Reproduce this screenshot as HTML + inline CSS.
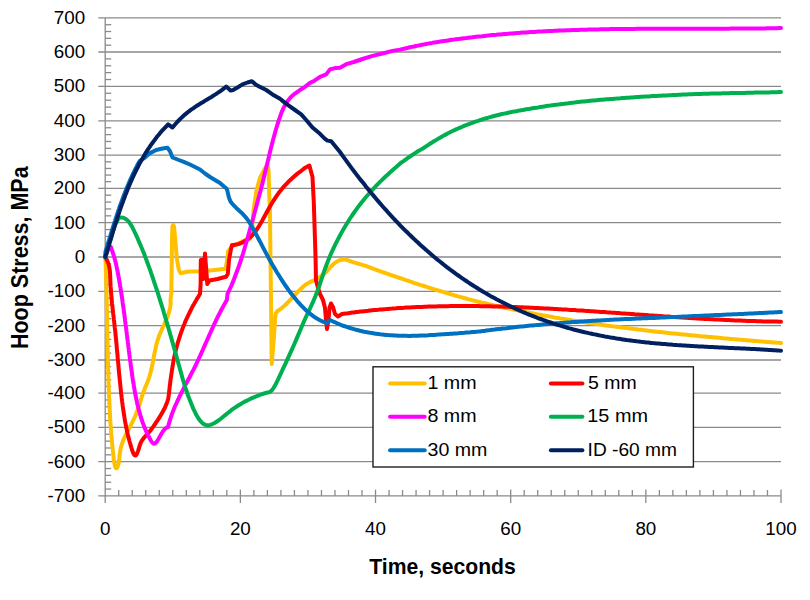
<!DOCTYPE html>
<html><head><meta charset="utf-8"><style>
html,body{margin:0;padding:0;background:#fff;}
body{width:810px;height:600px;overflow:hidden;}
svg{display:block;}
text{font-family:"Liberation Sans",sans-serif;fill:#000;}
</style></head><body>
<svg width="810" height="600" viewBox="0 0 810 600">
<rect width="810" height="600" fill="#fff"/>
<g stroke="#8a8a8a" stroke-width="1.3" fill="none">
<line x1="98.3" y1="17.90" x2="781.00" y2="17.90"/>
<line x1="98.3" y1="52.00" x2="781.00" y2="52.00"/>
<line x1="98.3" y1="86.40" x2="781.00" y2="86.40"/>
<line x1="98.3" y1="120.90" x2="781.00" y2="120.90"/>
<line x1="98.3" y1="155.20" x2="781.00" y2="155.20"/>
<line x1="98.3" y1="188.30" x2="781.00" y2="188.30"/>
<line x1="98.3" y1="222.70" x2="781.00" y2="222.70"/>
<line x1="98.3" y1="257.00" x2="781.00" y2="257.00"/>
<line x1="98.3" y1="291.30" x2="781.00" y2="291.30"/>
<line x1="98.3" y1="325.60" x2="781.00" y2="325.60"/>
<line x1="98.3" y1="360.00" x2="781.00" y2="360.00"/>
<line x1="98.3" y1="393.10" x2="781.00" y2="393.10"/>
<line x1="98.3" y1="427.40" x2="781.00" y2="427.40"/>
<line x1="98.3" y1="461.70" x2="781.00" y2="461.70"/>
<line x1="98.3" y1="495.90" x2="781.00" y2="495.90"/>
<line x1="105.2" y1="17.90" x2="105.2" y2="503"/>
<line x1="105.2" y1="489.06" x2="111.2" y2="489.06"/>
<line x1="105.2" y1="482.22" x2="111.2" y2="482.22"/>
<line x1="105.2" y1="475.38" x2="111.2" y2="475.38"/>
<line x1="105.2" y1="468.54" x2="111.2" y2="468.54"/>
<line x1="105.2" y1="454.84" x2="111.2" y2="454.84"/>
<line x1="105.2" y1="447.98" x2="111.2" y2="447.98"/>
<line x1="105.2" y1="441.12" x2="111.2" y2="441.12"/>
<line x1="105.2" y1="434.26" x2="111.2" y2="434.26"/>
<line x1="105.2" y1="420.54" x2="111.2" y2="420.54"/>
<line x1="105.2" y1="413.68" x2="111.2" y2="413.68"/>
<line x1="105.2" y1="406.82" x2="111.2" y2="406.82"/>
<line x1="105.2" y1="399.96" x2="111.2" y2="399.96"/>
<line x1="105.2" y1="386.48" x2="111.2" y2="386.48"/>
<line x1="105.2" y1="379.86" x2="111.2" y2="379.86"/>
<line x1="105.2" y1="373.24" x2="111.2" y2="373.24"/>
<line x1="105.2" y1="366.62" x2="111.2" y2="366.62"/>
<line x1="105.2" y1="353.12" x2="111.2" y2="353.12"/>
<line x1="105.2" y1="346.24" x2="111.2" y2="346.24"/>
<line x1="105.2" y1="339.36" x2="111.2" y2="339.36"/>
<line x1="105.2" y1="332.48" x2="111.2" y2="332.48"/>
<line x1="105.2" y1="318.74" x2="111.2" y2="318.74"/>
<line x1="105.2" y1="311.88" x2="111.2" y2="311.88"/>
<line x1="105.2" y1="305.02" x2="111.2" y2="305.02"/>
<line x1="105.2" y1="298.16" x2="111.2" y2="298.16"/>
<line x1="105.2" y1="284.44" x2="111.2" y2="284.44"/>
<line x1="105.2" y1="277.58" x2="111.2" y2="277.58"/>
<line x1="105.2" y1="270.72" x2="111.2" y2="270.72"/>
<line x1="105.2" y1="263.86" x2="111.2" y2="263.86"/>
<line x1="105.2" y1="250.14" x2="111.2" y2="250.14"/>
<line x1="105.2" y1="243.28" x2="111.2" y2="243.28"/>
<line x1="105.2" y1="236.42" x2="111.2" y2="236.42"/>
<line x1="105.2" y1="229.56" x2="111.2" y2="229.56"/>
<line x1="105.2" y1="215.82" x2="111.2" y2="215.82"/>
<line x1="105.2" y1="208.94" x2="111.2" y2="208.94"/>
<line x1="105.2" y1="202.06" x2="111.2" y2="202.06"/>
<line x1="105.2" y1="195.18" x2="111.2" y2="195.18"/>
<line x1="105.2" y1="181.68" x2="111.2" y2="181.68"/>
<line x1="105.2" y1="175.06" x2="111.2" y2="175.06"/>
<line x1="105.2" y1="168.44" x2="111.2" y2="168.44"/>
<line x1="105.2" y1="161.82" x2="111.2" y2="161.82"/>
<line x1="105.2" y1="148.34" x2="111.2" y2="148.34"/>
<line x1="105.2" y1="141.48" x2="111.2" y2="141.48"/>
<line x1="105.2" y1="134.62" x2="111.2" y2="134.62"/>
<line x1="105.2" y1="127.76" x2="111.2" y2="127.76"/>
<line x1="105.2" y1="114.00" x2="111.2" y2="114.00"/>
<line x1="105.2" y1="107.10" x2="111.2" y2="107.10"/>
<line x1="105.2" y1="100.20" x2="111.2" y2="100.20"/>
<line x1="105.2" y1="93.30" x2="111.2" y2="93.30"/>
<line x1="105.2" y1="79.52" x2="111.2" y2="79.52"/>
<line x1="105.2" y1="72.64" x2="111.2" y2="72.64"/>
<line x1="105.2" y1="65.76" x2="111.2" y2="65.76"/>
<line x1="105.2" y1="58.88" x2="111.2" y2="58.88"/>
<line x1="105.2" y1="45.18" x2="111.2" y2="45.18"/>
<line x1="105.2" y1="38.36" x2="111.2" y2="38.36"/>
<line x1="105.2" y1="31.54" x2="111.2" y2="31.54"/>
<line x1="105.2" y1="24.72" x2="111.2" y2="24.72"/>
<line x1="118.72" y1="490" x2="118.72" y2="495.90"/>
<line x1="132.23" y1="490" x2="132.23" y2="495.90"/>
<line x1="145.75" y1="490" x2="145.75" y2="495.90"/>
<line x1="159.26" y1="490" x2="159.26" y2="495.90"/>
<line x1="172.78" y1="490" x2="172.78" y2="495.90"/>
<line x1="186.30" y1="490" x2="186.30" y2="495.90"/>
<line x1="199.81" y1="490" x2="199.81" y2="495.90"/>
<line x1="213.33" y1="490" x2="213.33" y2="495.90"/>
<line x1="226.84" y1="490" x2="226.84" y2="495.90"/>
<line x1="240.36" y1="489.6" x2="240.36" y2="503"/>
<line x1="253.88" y1="490" x2="253.88" y2="495.90"/>
<line x1="267.39" y1="490" x2="267.39" y2="495.90"/>
<line x1="280.91" y1="490" x2="280.91" y2="495.90"/>
<line x1="294.42" y1="490" x2="294.42" y2="495.90"/>
<line x1="307.94" y1="490" x2="307.94" y2="495.90"/>
<line x1="321.46" y1="490" x2="321.46" y2="495.90"/>
<line x1="334.97" y1="490" x2="334.97" y2="495.90"/>
<line x1="348.49" y1="490" x2="348.49" y2="495.90"/>
<line x1="362.00" y1="490" x2="362.00" y2="495.90"/>
<line x1="375.52" y1="489.6" x2="375.52" y2="503"/>
<line x1="389.04" y1="490" x2="389.04" y2="495.90"/>
<line x1="402.55" y1="490" x2="402.55" y2="495.90"/>
<line x1="416.07" y1="490" x2="416.07" y2="495.90"/>
<line x1="429.58" y1="490" x2="429.58" y2="495.90"/>
<line x1="443.10" y1="490" x2="443.10" y2="495.90"/>
<line x1="456.62" y1="490" x2="456.62" y2="495.90"/>
<line x1="470.13" y1="490" x2="470.13" y2="495.90"/>
<line x1="483.65" y1="490" x2="483.65" y2="495.90"/>
<line x1="497.16" y1="490" x2="497.16" y2="495.90"/>
<line x1="510.68" y1="489.6" x2="510.68" y2="503"/>
<line x1="524.20" y1="490" x2="524.20" y2="495.90"/>
<line x1="537.71" y1="490" x2="537.71" y2="495.90"/>
<line x1="551.23" y1="490" x2="551.23" y2="495.90"/>
<line x1="564.74" y1="490" x2="564.74" y2="495.90"/>
<line x1="578.26" y1="490" x2="578.26" y2="495.90"/>
<line x1="591.78" y1="490" x2="591.78" y2="495.90"/>
<line x1="605.29" y1="490" x2="605.29" y2="495.90"/>
<line x1="618.81" y1="490" x2="618.81" y2="495.90"/>
<line x1="632.32" y1="490" x2="632.32" y2="495.90"/>
<line x1="645.84" y1="489.6" x2="645.84" y2="503"/>
<line x1="659.36" y1="490" x2="659.36" y2="495.90"/>
<line x1="672.87" y1="490" x2="672.87" y2="495.90"/>
<line x1="686.39" y1="490" x2="686.39" y2="495.90"/>
<line x1="699.90" y1="490" x2="699.90" y2="495.90"/>
<line x1="713.42" y1="490" x2="713.42" y2="495.90"/>
<line x1="726.94" y1="490" x2="726.94" y2="495.90"/>
<line x1="740.45" y1="490" x2="740.45" y2="495.90"/>
<line x1="753.97" y1="490" x2="753.97" y2="495.90"/>
<line x1="767.48" y1="490" x2="767.48" y2="495.90"/>
<line x1="781.00" y1="489.6" x2="781.00" y2="503"/>
</g>
<g fill="none" stroke-width="4" stroke-linejoin="round" stroke-linecap="round">
<polyline points="105.3,256.9 105.6,262.5 105.7,264.5 105.7,266.6 105.8,268.6 105.9,270.6 106.0,272.7 106.0,274.7 106.1,276.7 106.1,278.7 106.2,280.7 106.3,282.8 106.3,284.8 106.4,286.8 106.4,288.8 106.5,290.8 106.5,292.8 106.6,294.8 106.6,296.8 106.7,298.8 106.7,300.8 106.7,302.8 106.8,304.8 106.8,306.8 106.9,308.8 106.9,310.8 106.9,312.7 107.0,314.7 107.0,316.7 107.1,318.7 107.1,320.7 107.1,322.7 107.2,324.7 107.2,326.7 107.2,328.7 107.3,330.7 107.3,332.7 107.4,334.7 107.4,336.6 107.4,338.6 107.5,340.6 107.5,342.6 107.6,344.6 107.6,346.7 107.6,348.7 107.7,350.7 107.7,352.7 107.8,354.7 107.8,356.7 107.9,358.7 107.9,360.7 108.0,362.8 108.0,364.8 108.1,366.8 108.1,368.8 108.2,370.9 108.2,372.9 108.3,375.0 108.4,377.0 108.4,379.0 108.5,381.1 108.5,383.1 108.6,385.2 108.7,387.3 108.8,389.3 108.8,391.4 108.9,393.4 109.0,395.4 109.1,397.5 109.2,399.5 109.3,401.5 109.4,403.6 109.5,405.6 109.6,407.6 109.7,409.6 109.8,411.6 109.9,413.6 110.0,415.5 110.1,417.5 110.2,419.4 110.3,421.4 110.5,423.3 110.6,425.2 110.7,427.1 110.9,428.9 111.0,430.8 111.2,432.6 111.3,434.4 111.5,436.3 111.6,438.1 111.8,440.0 112.0,442.0 112.2,444.1 112.4,446.3 112.7,448.6 112.9,451.0 113.2,453.6 113.5,456.4 113.8,459.2 114.2,461.9 114.6,464.3 115.1,466.2 115.5,467.6 116.1,468.3 116.7,468.2 117.3,467.3 117.9,466.0 118.4,464.3 118.7,462.5 119.0,460.4 119.3,458.2 119.5,456.0 119.8,453.7 120.1,451.5 120.5,449.4 120.9,447.4 121.5,445.5 122.1,443.6 122.7,441.8 123.4,440.1 124.2,438.3 125.0,436.5 125.9,434.7 126.8,432.9 127.7,431.1 128.7,429.3 129.6,427.5 130.6,425.7 131.5,423.9 132.4,422.0 133.3,420.2 134.2,418.4 135.0,416.5 135.8,414.7 136.5,412.8 137.2,411.0 137.9,409.1 138.5,407.2 139.1,405.4 139.7,403.5 140.3,401.6 140.9,399.7 141.5,397.8 142.1,395.9 142.8,394.0 143.4,392.1 144.2,390.2 144.9,388.3 145.7,386.4 146.5,384.5 147.2,382.6 148.0,380.7 148.6,378.8 149.3,376.8 149.9,374.9 150.4,373.0 150.9,371.1 151.4,369.1 151.8,367.2 152.2,365.3 152.6,363.4 153.0,361.4 153.3,359.5 153.7,357.6 154.0,355.6 154.4,353.7 154.8,351.8 155.2,349.8 155.6,347.9 156.1,345.9 156.5,344.0 157.1,342.1 157.7,340.2 158.3,338.2 159.0,336.3 159.7,334.4 160.5,332.4 161.4,330.5 162.2,328.6 163.1,326.7 164.0,324.7 164.8,322.8 165.7,320.9 166.5,319.0 167.3,317.1 168.0,315.2 168.7,313.3 169.2,311.4 169.7,309.5 170.1,307.6 170.4,305.7 170.6,303.8 170.6,301.9 170.5,300.0 171.3,293.3 171.8,260.0 172.0,240.0 172.4,226.5 173.2,225.0 174.0,226.5 175.3,240.0 176.7,257.3 178.7,269.3 180.7,273.3 186.0,272.0 190.0,271.5 199.8,271.2 212.5,270.2 225.5,268.7 227.2,260.0 228.2,251.0 232.5,246.2 242.5,241.2 250.0,238.5 252.0,230.0 253.5,210.0 256.5,190.0 260.0,178.0 264.0,170.0 267.5,164.5 268.5,170.0 269.2,192.5 270.0,215.0 270.5,260.0 271.0,300.0 271.7,364.0 274.0,336.0 275.0,320.0 275.8,313.3 277.5,311.0 279.5,309.7 281.5,308.3 283.5,306.6 285.5,304.7 287.5,302.8 289.5,300.7 291.5,298.6 293.5,296.4 295.5,294.3 297.5,292.2 299.5,290.1 301.5,288.2 303.5,286.4 305.5,284.8 307.5,283.5 309.5,282.4 311.6,281.4 313.6,280.5 315.6,279.4 317.6,278.3 319.6,277.1 321.6,275.7 323.6,274.2 325.6,272.5 327.6,270.4 329.6,268.2 331.6,266.0 333.6,264.0 335.6,262.4 337.6,261.2 339.6,260.3 341.6,259.7 343.6,259.4 345.6,259.4 347.6,260.2 349.6,261.0 351.6,261.7 353.6,262.3 355.6,262.9 357.6,263.5 359.6,264.1 361.7,264.7 363.7,265.3 365.7,265.9 367.7,266.7 369.7,267.4 371.7,268.2 373.7,268.9 375.7,269.6 377.7,270.4 379.7,271.1 381.7,271.8 383.7,272.5 385.7,273.2 387.7,273.9 389.7,274.6 391.7,275.3 393.8,276.0 395.8,276.6 397.8,277.3 399.8,278.0 401.8,278.7 403.8,279.4 405.8,280.1 407.8,280.7 409.8,281.4 411.8,282.1 413.8,282.8 415.8,283.4 417.8,284.1 419.8,284.8 421.8,285.4 423.9,286.0 425.9,286.7 427.9,287.3 429.9,288.0 431.9,288.6 433.9,289.2 435.9,289.8 437.9,290.4 439.9,291.0 441.9,291.6 443.9,292.2 445.9,292.8 447.9,293.4 449.9,294.0 451.9,294.6 453.9,295.2 456.0,295.7 458.0,296.3 460.0,296.9 462.0,297.4 464.0,298.0 466.0,298.5 468.0,299.1 470.0,299.6 472.0,300.1 474.0,300.6 476.0,301.1 478.0,301.6 480.0,302.1 482.0,302.6 484.0,303.0 486.1,303.5 488.1,304.0 490.1,304.4 492.1,304.9 494.1,305.4 496.1,305.8 498.1,306.3 500.1,306.7 502.1,307.1 504.1,307.6 506.1,308.0 508.1,308.4 510.1,308.9 512.1,309.3 514.1,309.7 516.1,310.1 518.2,310.5 520.2,310.9 522.2,311.4 524.2,311.8 526.2,312.1 528.2,312.5 530.2,312.9 532.2,313.3 534.2,313.7 536.2,314.1 538.2,314.5 540.2,314.8 542.2,315.2 544.2,315.6 546.2,315.9 548.3,316.3 550.3,316.6 552.3,317.0 554.3,317.4 556.3,317.7 558.3,318.0 560.3,318.4 562.3,318.7 564.3,319.1 566.3,319.4 568.3,319.7 570.3,320.0 572.3,320.4 574.3,320.7 576.3,321.0 578.3,321.3 580.4,321.6 582.4,321.9 584.4,322.3 586.4,322.6 588.4,322.9 590.4,323.2 592.4,323.5 594.4,323.7 596.4,324.0 598.4,324.3 600.4,324.6 602.4,324.9 604.4,325.2 606.4,325.4 608.4,325.7 610.5,326.0 612.5,326.3 614.5,326.5 616.5,326.8 618.5,327.1 620.5,327.3 622.5,327.6 624.5,327.8 626.5,328.1 628.5,328.3 630.5,328.6 632.5,328.8 634.5,329.1 636.5,329.3 638.5,329.6 640.5,329.8 642.6,330.1 644.6,330.3 646.6,330.5 648.6,330.8 650.6,331.0 652.6,331.2 654.6,331.4 656.6,331.7 658.6,331.9 660.6,332.1 662.6,332.3 664.6,332.5 666.6,332.8 668.6,333.0 670.6,333.2 672.7,333.4 674.7,333.6 676.7,333.8 678.7,334.0 680.7,334.2 682.7,334.4 684.7,334.6 686.7,334.8 688.7,335.0 690.7,335.2 692.7,335.4 694.7,335.6 696.7,335.8 698.7,336.0 700.7,336.2 702.7,336.4 704.8,336.5 706.8,336.7 708.8,336.9 710.8,337.1 712.8,337.3 714.8,337.5 716.8,337.6 718.8,337.8 720.8,338.0 722.8,338.2 724.8,338.4 726.8,338.5 728.8,338.7 730.8,338.9 732.8,339.1 734.9,339.2 736.9,339.4 738.9,339.6 740.9,339.7 742.9,339.9 744.9,340.1 746.9,340.2 748.9,340.4 750.9,340.6 752.9,340.7 754.9,340.9 756.9,341.1 758.9,341.2 760.9,341.4 762.9,341.6 764.9,341.7 767.0,341.9 769.0,342.0 771.0,342.2 773.0,342.4 775.0,342.5 777.0,342.7 779.0,342.8 781.0,343.0" stroke="#FFC000"/>
<polyline points="105.3,256.9 106.2,258.8 107.2,260.7 108.0,262.6 108.7,264.6 109.1,266.5 109.5,268.5 109.8,270.4 110.0,272.4 110.1,274.4 110.2,276.3 110.3,278.3 110.3,280.3 110.4,282.2 110.5,284.2 110.6,286.2 110.8,288.1 110.9,290.1 111.0,292.1 111.2,294.1 111.4,296.1 111.6,298.0 111.7,300.0 111.9,302.0 112.1,304.0 112.4,306.0 112.6,308.0 112.8,310.0 113.0,312.0 113.2,314.0 113.5,316.0 113.7,318.0 113.9,320.0 114.2,322.0 114.4,324.0 114.6,326.0 114.8,328.0 115.1,330.0 115.3,332.0 115.5,334.0 115.7,336.0 115.9,338.0 116.1,340.0 116.3,342.0 116.5,344.0 116.6,346.0 116.8,348.0 117.0,350.0 117.2,352.0 117.4,354.0 117.6,356.0 117.7,358.1 117.9,360.1 118.1,362.1 118.3,364.1 118.5,366.1 118.6,368.1 118.8,370.1 119.0,372.1 119.2,374.1 119.4,376.1 119.6,378.1 119.8,380.1 120.0,382.1 120.2,384.1 120.4,386.1 120.6,388.1 120.8,390.1 121.0,392.1 121.2,394.0 121.5,396.0 121.7,398.0 122.0,400.0 122.2,402.0 122.5,404.0 122.7,406.0 123.0,407.9 123.3,409.9 123.6,411.9 123.9,413.9 124.2,415.8 124.5,417.8 124.8,419.8 125.1,421.7 125.5,423.7 125.9,425.7 126.3,427.6 126.7,429.6 127.1,431.5 127.5,433.4 128.0,435.4 128.5,437.3 129.0,439.3 129.5,441.3 130.1,443.3 130.7,445.4 131.3,447.5 132.0,449.7 132.7,451.8 133.4,453.5 134.2,454.8 135.0,455.4 135.8,455.3 136.6,454.4 137.3,452.9 138.0,451.1 138.7,449.0 139.4,446.7 140.1,444.4 141.0,442.3 142.1,440.3 143.3,438.6 144.6,437.1 145.9,435.7 147.3,434.2 148.5,432.8 149.8,431.3 151.0,429.8 152.1,428.2 153.3,426.6 154.4,425.0 155.5,423.4 156.6,421.7 157.7,420.1 158.8,418.4 159.9,416.6 160.9,414.9 162.0,413.1 163.0,411.3 163.9,409.5 164.9,407.7 165.7,405.8 166.5,403.9 167.2,402.1 167.8,400.2 168.3,398.3 168.6,396.3 168.9,394.4 169.1,392.5 169.3,390.5 169.5,388.6 169.7,386.6 170.0,384.6 170.2,382.6 170.5,380.6 170.7,378.7 171.0,376.7 171.3,374.7 171.6,372.7 171.9,370.7 172.2,368.7 172.5,366.7 172.9,364.7 173.2,362.7 173.6,360.7 173.9,358.7 174.3,356.8 174.8,354.8 175.2,352.8 175.7,350.9 176.1,348.9 176.6,347.0 177.2,345.0 177.7,343.1 178.3,341.2 178.9,339.3 179.5,337.4 180.1,335.5 180.7,333.6 181.4,331.7 182.1,329.8 182.8,327.9 183.5,326.1 184.3,324.2 185.0,322.4 185.8,320.5 186.6,318.7 187.5,316.9 188.3,315.1 189.2,313.3 190.1,311.5 191.0,309.7 191.9,307.9 192.8,306.1 193.8,304.4 194.8,302.6 195.8,300.9 196.8,299.1 197.9,297.4 198.9,295.7 200.0,294.0 200.6,285.0 200.8,260.0 202.5,259.6 203.3,279.0 205.0,253.5 207.3,284.0 209.5,280.5 217.5,279.0 226.0,276.8 227.8,274.0 229.0,260.0 230.9,249.5 232.0,245.0 234.0,244.9 236.1,244.6 238.1,244.1 240.1,243.5 242.2,242.6 244.2,241.5 246.3,240.3 248.3,238.9 250.3,237.2 252.4,235.3 254.4,232.9 256.4,230.1 258.5,226.9 260.5,223.5 262.6,219.9 264.6,216.2 266.6,212.5 268.7,208.7 270.7,205.2 272.7,201.8 274.8,198.6 276.8,195.7 278.8,192.8 280.9,190.2 282.9,187.7 285.0,185.4 287.0,183.3 289.0,181.2 291.1,179.3 293.1,177.4 295.1,175.6 297.2,173.9 299.2,172.3 301.3,170.8 303.3,169.2 305.3,167.7 307.4,166.6 309.4,165.6 312.5,177.0 313.8,202.5 315.0,240.0 315.6,260.0 316.0,280.0 318.0,288.0 320.0,294.0 323.0,300.0 325.0,308.0 326.0,320.0 327.0,329.0 328.5,320.0 329.5,308.0 331.0,303.5 333.0,307.0 335.0,314.0 338.0,316.5 342.0,314.0 344.0,313.7 346.0,313.4 348.0,313.2 350.0,312.9 352.0,312.6 354.0,312.4 356.0,312.1 358.0,311.9 360.0,311.6 362.0,311.4 364.1,311.2 366.1,311.0 368.1,310.8 370.1,310.5 372.1,310.3 374.1,310.1 376.1,309.9 378.1,309.8 380.1,309.6 382.1,309.4 384.1,309.2 386.1,309.1 388.1,308.9 390.1,308.7 392.1,308.6 394.1,308.4 396.1,308.3 398.1,308.1 400.1,308.0 402.1,307.9 404.1,307.8 406.1,307.6 408.2,307.5 410.2,307.4 412.2,307.3 414.2,307.2 416.2,307.1 418.2,307.0 420.2,306.9 422.2,306.9 424.2,306.8 426.2,306.7 428.2,306.6 430.2,306.6 432.2,306.5 434.2,306.4 436.2,306.4 438.2,306.3 440.2,306.3 442.2,306.3 444.2,306.2 446.2,306.2 448.2,306.2 450.2,306.1 452.3,306.1 454.3,306.1 456.3,306.1 458.3,306.1 460.3,306.1 462.3,306.0 464.3,306.0 466.3,306.0 468.3,306.1 470.3,306.1 472.3,306.1 474.3,306.1 476.3,306.1 478.3,306.1 480.3,306.2 482.3,306.2 484.3,306.2 486.3,306.3 488.3,306.3 490.3,306.3 492.3,306.4 494.3,306.4 496.4,306.5 498.4,306.5 500.4,306.6 502.4,306.6 504.4,306.7 506.4,306.8 508.4,306.8 510.4,306.9 512.4,307.0 514.4,307.0 516.4,307.1 518.4,307.2 520.4,307.3 522.4,307.3 524.4,307.4 526.4,307.5 528.4,307.6 530.4,307.7 532.4,307.8 534.4,307.9 536.4,308.0 538.4,308.1 540.5,308.2 542.5,308.3 544.5,308.4 546.5,308.5 548.5,308.6 550.5,308.7 552.5,308.8 554.5,308.9 556.5,309.0 558.5,309.2 560.5,309.3 562.5,309.4 564.5,309.5 566.5,309.6 568.5,309.8 570.5,309.9 572.5,310.0 574.5,310.1 576.5,310.3 578.5,310.4 580.5,310.5 582.5,310.6 584.6,310.8 586.6,310.9 588.6,311.0 590.6,311.2 592.6,311.3 594.6,311.4 596.6,311.6 598.6,311.7 600.6,311.9 602.6,312.0 604.6,312.1 606.6,312.3 608.6,312.4 610.6,312.6 612.6,312.7 614.6,312.8 616.6,313.0 618.6,313.1 620.6,313.3 622.6,313.4 624.6,313.5 626.6,313.7 628.7,313.8 630.7,314.0 632.7,314.1 634.7,314.3 636.7,314.4 638.7,314.5 640.7,314.7 642.7,314.8 644.7,315.0 646.7,315.1 648.7,315.3 650.7,315.4 652.7,315.5 654.7,315.7 656.7,315.8 658.7,316.0 660.7,316.1 662.7,316.2 664.7,316.4 666.7,316.5 668.7,316.6 670.7,316.8 672.8,316.9 674.8,317.0 676.8,317.2 678.8,317.3 680.8,317.4 682.8,317.6 684.8,317.7 686.8,317.8 688.8,317.9 690.8,318.1 692.8,318.2 694.8,318.3 696.8,318.4 698.8,318.5 700.8,318.7 702.8,318.8 704.8,318.9 706.8,319.0 708.8,319.1 710.8,319.2 712.8,319.3 714.8,319.4 716.9,319.5 718.9,319.6 720.9,319.7 722.9,319.8 724.9,319.9 726.9,320.0 728.9,320.1 730.9,320.2 732.9,320.3 734.9,320.4 736.9,320.5 738.9,320.6 740.9,320.6 742.9,320.7 744.9,320.8 746.9,320.9 748.9,320.9 750.9,321.0 752.9,321.1 754.9,321.1 756.9,321.2 758.9,321.3 761.0,321.3 763.0,321.4 765.0,321.4 767.0,321.5 769.0,321.5 771.0,321.5 773.0,321.6 775.0,321.6 777.0,321.6 779.0,321.7 781.0,321.7" stroke="#FF0000"/>
<polyline points="105.3,256.9 108.0,250.0 110.6,246.5 111.3,248.4 112.0,250.4 112.7,252.3 113.3,254.2 113.9,256.1 114.5,258.1 115.0,260.0 115.5,262.0 116.0,263.9 116.4,265.8 116.8,267.8 117.2,269.7 117.6,271.7 118.0,273.6 118.4,275.6 118.7,277.5 119.1,279.5 119.4,281.4 119.7,283.4 120.0,285.3 120.4,287.3 120.7,289.3 121.0,291.2 121.3,293.2 121.6,295.2 121.9,297.1 122.2,299.1 122.5,301.1 122.7,303.0 123.0,305.0 123.3,307.0 123.6,309.0 123.8,310.9 124.1,312.9 124.4,314.9 124.6,316.9 124.9,318.9 125.1,320.8 125.4,322.8 125.6,324.8 125.9,326.8 126.2,328.8 126.4,330.8 126.7,332.8 126.9,334.8 127.2,336.8 127.4,338.8 127.7,340.8 127.9,342.8 128.2,344.8 128.4,346.8 128.7,348.8 128.9,350.8 129.2,352.8 129.4,354.8 129.7,356.8 129.9,358.8 130.2,360.8 130.5,362.8 130.7,364.9 131.0,366.9 131.3,368.9 131.6,370.9 131.9,372.9 132.1,374.9 132.4,377.0 132.7,379.0 133.0,381.0 133.4,383.0 133.7,385.0 134.0,387.0 134.4,389.0 134.7,391.0 135.1,393.0 135.5,395.0 135.9,397.0 136.3,399.0 136.7,400.9 137.1,402.9 137.6,404.9 138.1,406.8 138.5,408.8 139.1,410.7 139.6,412.6 140.1,414.5 140.7,416.4 141.3,418.3 141.9,420.2 142.5,422.0 143.2,423.9 143.9,425.7 144.6,427.6 145.4,429.4 146.1,431.2 146.9,432.9 147.8,434.7 148.7,436.4 149.6,438.2 150.5,439.9 151.5,441.6 152.5,442.9 153.6,443.7 154.7,443.5 155.9,442.7 157.1,441.2 158.3,439.3 159.6,437.1 160.9,434.8 162.2,432.5 163.6,430.4 165.1,428.7 166.6,427.5 168.1,427.0 168.5,425.2 169.0,423.3 169.5,421.5 170.1,419.6 170.7,417.8 171.3,416.0 171.9,414.1 172.6,412.3 173.3,410.5 174.1,408.6 174.8,406.8 175.6,405.0 176.5,403.1 177.3,401.3 178.2,399.5 179.0,397.7 179.9,395.8 180.8,394.0 181.7,392.2 182.7,390.4 183.6,388.6 184.5,386.7 185.5,384.9 186.4,383.1 187.4,381.3 188.3,379.5 189.3,377.7 190.3,375.8 191.2,374.0 192.1,372.2 193.1,370.4 194.0,368.6 194.9,366.8 195.8,365.0 196.7,363.2 197.5,361.4 198.4,359.5 199.2,357.7 200.1,355.9 200.9,354.1 201.7,352.3 202.5,350.5 203.3,348.7 204.1,346.9 204.9,345.1 205.7,343.3 206.5,341.5 207.3,339.7 208.1,337.9 208.9,336.1 209.7,334.3 210.5,332.5 211.3,330.7 212.1,328.9 213.0,327.0 213.8,325.2 214.6,323.4 215.5,321.6 216.3,319.8 217.2,318.0 218.1,316.2 219.0,314.4 219.9,312.6 220.9,310.8 221.8,309.0 222.8,307.2 223.8,305.4 224.8,303.6 225.8,301.8 226.9,300.0 227.5,293.8 231.7,285.0 234.1,278.9 236.4,272.8 238.7,266.7 240.8,260.5 242.9,254.0 244.9,247.3 246.9,240.3 248.9,233.2 250.9,226.0 253.0,218.7 255.0,211.3 257.0,203.8 259.0,196.3 261.1,188.5 263.1,180.7 265.0,172.8 266.9,164.9 268.8,157.1 270.6,149.4 272.5,142.1 274.4,135.1 276.2,128.5 278.1,122.4 280.0,116.8 281.8,111.8 283.8,107.4 285.8,103.7 287.9,100.7 289.9,98.2 291.9,96.1 293.9,94.4 296.0,92.9 298.0,91.5 300.0,90.0 305.0,86.9 310.0,82.8 313.8,81.2 320.0,76.9 326.2,74.4 330.0,69.4 335.0,68.1 340.0,67.7 346.2,64.2 353.8,62.0 362.5,59.0 372.5,55.9 382.5,53.5 392.5,50.9 400.0,49.6 402.0,49.1 404.0,48.7 406.0,48.2 408.0,47.8 410.0,47.3 412.0,46.9 414.0,46.5 416.0,46.0 418.0,45.6 420.1,45.2 422.1,44.8 424.1,44.4 426.1,44.0 428.1,43.6 430.1,43.2 432.1,42.9 434.1,42.5 436.1,42.2 438.1,41.9 440.1,41.6 442.1,41.3 444.1,41.0 446.1,40.7 448.1,40.4 450.1,40.1 452.1,39.8 454.1,39.6 456.1,39.3 458.2,39.0 460.2,38.8 462.2,38.5 464.2,38.2 466.2,38.0 468.2,37.7 470.2,37.5 472.2,37.3 474.2,37.0 476.2,36.8 478.2,36.6 480.2,36.4 482.2,36.2 484.2,35.9 486.2,35.7 488.2,35.5 490.2,35.3 492.2,35.1 494.2,34.9 496.3,34.8 498.3,34.6 500.3,34.4 502.3,34.2 504.3,34.0 506.3,33.9 508.3,33.7 510.3,33.5 512.3,33.4 514.3,33.2 516.3,33.1 518.3,32.9 520.3,32.8 522.3,32.6 524.3,32.5 526.3,32.4 528.3,32.2 530.3,32.1 532.3,32.0 534.4,31.9 536.4,31.7 538.4,31.6 540.4,31.5 542.4,31.4 544.4,31.3 546.4,31.2 548.4,31.1 550.4,31.0 552.4,30.9 554.4,30.8 556.4,30.7 558.4,30.6 560.4,30.5 562.4,30.5 564.4,30.4 566.4,30.3 568.4,30.2 570.4,30.2 572.5,30.1 574.5,30.0 576.5,30.0 578.5,29.9 580.5,29.8 582.5,29.8 584.5,29.7 586.5,29.7 588.5,29.6 590.5,29.6 592.5,29.5 594.5,29.5 596.5,29.4 598.5,29.4 600.5,29.3 602.5,29.3 604.5,29.3 606.5,29.2 608.5,29.2 610.6,29.1 612.6,29.1 614.6,29.1 616.6,29.1 618.6,29.0 620.6,29.0 622.6,29.0 624.6,29.0 626.6,28.9 628.6,28.9 630.6,28.9 632.6,28.9 634.6,28.9 636.6,28.8 638.6,28.8 640.6,28.8 642.6,28.8 644.6,28.8 646.6,28.8 648.7,28.8 650.7,28.8 652.7,28.8 654.7,28.8 656.7,28.7 658.7,28.7 660.7,28.7 662.7,28.7 664.7,28.7 666.7,28.7 668.7,28.7 670.7,28.7 672.7,28.7 674.7,28.7 676.7,28.7 678.7,28.7 680.7,28.7 682.7,28.7 684.7,28.7 686.8,28.7 688.8,28.7 690.8,28.7 692.8,28.7 694.8,28.7 696.8,28.7 698.8,28.7 700.8,28.7 702.8,28.7 704.8,28.7 706.8,28.7 708.8,28.7 710.8,28.7 712.8,28.7 714.8,28.7 716.8,28.7 718.8,28.7 720.8,28.7 722.8,28.7 724.9,28.7 726.9,28.7 728.9,28.7 730.9,28.6 732.9,28.6 734.9,28.6 736.9,28.6 738.9,28.6 740.9,28.6 742.9,28.6 744.9,28.6 746.9,28.6 748.9,28.5 750.9,28.5 752.9,28.5 754.9,28.5 756.9,28.5 758.9,28.4 760.9,28.4 763.0,28.4 765.0,28.4 767.0,28.3 769.0,28.3 771.0,28.3 773.0,28.2 775.0,28.2 777.0,28.2 779.0,28.1 781.0,28.1" stroke="#FF00FF"/>
<polyline points="105.3,256.9 105.9,255.0 106.5,253.1 107.0,251.2 107.6,249.3 108.2,247.4 108.8,245.5 109.3,243.6 109.9,241.7 110.5,239.8 111.1,237.9 111.7,236.0 112.2,234.1 112.8,232.2 113.4,230.2 114.0,228.3 114.6,226.4 115.2,224.5 119.0,217.5 120.9,217.4 122.7,217.7 124.3,218.2 125.8,219.0 127.2,220.1 128.4,221.3 129.6,222.8 130.6,224.3 131.6,226.0 132.6,227.8 133.5,229.6 134.4,231.5 135.3,233.3 136.1,235.2 137.0,237.0 137.8,238.9 138.6,240.7 139.4,242.6 140.2,244.5 141.0,246.3 141.8,248.2 142.6,250.1 143.3,251.9 144.1,253.8 144.8,255.7 145.5,257.6 146.2,259.4 146.9,261.3 147.6,263.2 148.3,265.1 149.0,267.0 149.7,268.9 150.4,270.8 151.0,272.7 151.7,274.6 152.3,276.5 153.0,278.4 153.6,280.3 154.2,282.2 154.9,284.1 155.5,286.0 156.1,287.9 156.8,289.8 157.4,291.7 158.0,293.6 158.6,295.5 159.2,297.5 159.8,299.4 160.4,301.3 161.0,303.2 161.6,305.1 162.2,307.0 162.8,309.0 163.4,310.9 163.9,312.8 164.5,314.7 165.1,316.7 165.7,318.6 166.2,320.5 166.8,322.4 167.4,324.4 167.9,326.3 168.5,328.2 169.0,330.1 169.6,332.1 170.1,334.0 170.7,335.9 171.2,337.8 171.8,339.7 172.3,341.7 172.9,343.6 173.4,345.5 173.9,347.4 174.5,349.3 175.0,351.2 175.6,353.2 176.1,355.1 176.6,357.0 177.1,358.9 177.7,360.8 178.2,362.7 178.7,364.6 179.3,366.5 179.8,368.4 180.3,370.3 180.8,372.2 181.4,374.1 181.9,376.0 182.4,377.9 183.0,379.8 183.6,381.7 184.1,383.6 184.7,385.5 185.3,387.4 186.0,389.4 186.6,391.3 187.3,393.2 187.9,395.2 188.7,397.1 189.4,399.1 190.2,401.1 191.0,403.0 191.8,405.0 192.6,407.1 193.5,409.1 194.5,411.1 195.4,413.0 196.4,415.0 197.5,416.8 198.5,418.5 199.6,420.0 200.8,421.4 202.0,422.7 203.2,423.7 204.5,424.4 205.8,425.0 207.2,425.2 208.6,425.2 210.0,424.9 211.5,424.5 213.0,423.8 214.5,423.0 216.1,422.1 217.7,421.0 219.3,419.8 221.0,418.5 222.6,417.2 224.3,415.8 226.1,414.4 227.8,413.0 229.6,411.6 231.3,410.2 233.1,408.9 234.9,407.7 236.7,406.5 238.6,405.3 240.4,404.2 242.2,403.1 244.1,402.1 245.9,401.1 247.7,400.2 249.6,399.3 251.4,398.4 253.2,397.6 255.1,396.8 256.9,396.1 258.7,395.4 260.5,394.7 262.3,394.1 264.0,393.5 265.8,393.0 267.5,392.5 269.5,392.2 271.5,390.7 273.5,388.1 275.5,384.7 277.5,380.7 279.5,376.4 281.5,372.0 283.5,367.6 285.6,363.3 287.6,358.9 289.6,354.6 291.6,350.2 293.6,345.7 295.6,341.1 297.6,336.4 299.6,331.7 301.6,327.0 303.6,322.3 305.6,317.8 307.6,313.5 309.6,309.3 311.6,305.0 313.6,300.6 315.6,295.8 317.6,290.5 319.7,284.7 321.7,278.7 323.7,272.7 325.7,267.0 327.7,261.7 329.7,256.7 331.7,252.1 333.7,247.8 335.7,243.7 337.7,239.8 339.7,236.0 341.7,232.4 343.7,228.8 345.7,225.5 347.7,222.2 349.7,219.0 351.7,216.0 353.8,213.0 355.8,210.2 357.8,207.4 359.8,204.8 361.8,202.2 363.8,199.7 365.8,197.3 367.8,195.0 369.8,192.7 371.8,190.5 373.8,188.3 375.8,186.2 377.8,184.1 379.8,182.1 381.8,180.1 383.8,178.2 385.8,176.3 387.9,174.4 389.9,172.6 391.9,170.7 393.9,168.9 395.9,167.2 397.9,165.4 399.9,163.7 401.9,162.2 403.9,160.8 405.9,159.3 407.9,157.9 409.9,156.5 411.9,155.2 413.9,153.9 415.9,152.6 417.9,151.3 419.9,150.1 422.0,148.9 424.0,147.7 426.0,146.4 428.0,145.1 430.0,143.8 432.0,142.5 434.0,141.3 436.0,140.1 438.0,138.9 440.0,137.7 442.0,136.6 444.0,135.4 446.0,134.4 448.0,133.3 450.0,132.3 452.0,131.3 454.0,130.4 456.1,129.4 458.1,128.5 460.1,127.6 462.1,126.8 464.1,125.9 466.1,125.1 468.1,124.4 470.1,123.6 472.1,122.9 474.1,122.1 476.1,121.4 478.1,120.8 480.1,120.1 482.1,119.5 484.1,118.8 486.1,118.2 488.1,117.7 490.2,117.1 492.2,116.5 494.2,116.0 496.2,115.5 498.2,115.0 500.2,114.5 502.2,114.0 504.2,113.6 506.2,113.2 508.2,112.7 510.2,112.3 512.2,111.9 514.2,111.5 516.2,111.2 518.2,110.8 520.2,110.4 522.2,110.1 524.2,109.7 526.3,109.3 528.3,109.0 530.3,108.7 532.3,108.3 534.3,108.0 536.3,107.7 538.3,107.4 540.3,107.0 542.3,106.7 544.3,106.4 546.3,106.1 548.3,105.8 550.3,105.6 552.3,105.3 554.3,105.0 556.3,104.7 558.3,104.5 560.4,104.2 562.4,103.9 564.4,103.7 566.4,103.4 568.4,103.2 570.4,102.9 572.4,102.7 574.4,102.5 576.4,102.2 578.4,102.0 580.4,101.8 582.4,101.6 584.4,101.4 586.4,101.2 588.4,101.0 590.4,100.8 592.4,100.6 594.5,100.4 596.5,100.2 598.5,100.0 600.5,99.8 602.5,99.7 604.5,99.5 606.5,99.3 608.5,99.2 610.5,99.0 612.5,98.9 614.5,98.7 616.5,98.6 618.5,98.4 620.5,98.3 622.5,98.1 624.5,98.0 626.5,97.8 628.6,97.7 630.6,97.5 632.6,97.4 634.6,97.2 636.6,97.1 638.6,97.0 640.6,96.8 642.6,96.7 644.6,96.6 646.6,96.5 648.6,96.4 650.6,96.2 652.6,96.1 654.6,96.0 656.6,95.9 658.6,95.8 660.6,95.7 662.7,95.6 664.7,95.5 666.7,95.4 668.7,95.3 670.7,95.2 672.7,95.1 674.7,95.0 676.7,94.9 678.7,94.8 680.7,94.7 682.7,94.6 684.7,94.5 686.7,94.4 688.7,94.3 690.7,94.3 692.7,94.2 694.7,94.1 696.8,94.0 698.8,93.9 700.8,93.9 702.8,93.8 704.8,93.8 706.8,93.7 708.8,93.7 710.8,93.6 712.8,93.6 714.8,93.5 716.8,93.5 718.8,93.4 720.8,93.4 722.8,93.3 724.8,93.3 726.8,93.2 728.8,93.2 730.9,93.1 732.9,93.1 734.9,93.1 736.9,93.0 738.9,93.0 740.9,92.9 742.9,92.9 744.9,92.9 746.9,92.8 748.9,92.8 750.9,92.7 752.9,92.7 754.9,92.6 756.9,92.6 758.9,92.6 760.9,92.5 762.9,92.5 765.0,92.4 767.0,92.4 769.0,92.4 771.0,92.3 773.0,92.3 775.0,92.2 777.0,92.2 779.0,92.1 781.0,92.1" stroke="#00B050"/>
<polyline points="105.3,256.9 105.3,255.0 105.3,253.1 105.6,251.2 106.2,249.3 106.8,247.4 107.4,245.5 107.9,243.6 108.5,241.7 109.1,239.8 109.7,237.9 110.3,236.0 110.8,234.1 111.4,232.2 112.0,230.2 112.6,228.3 113.2,226.4 113.8,224.5 114.4,222.5 115.1,220.6 115.7,218.7 116.3,216.8 116.9,214.9 117.6,213.0 118.2,211.0 118.9,209.1 119.5,207.2 120.2,205.3 120.9,203.4 121.6,201.5 122.3,199.6 123.0,197.7 123.7,195.8 124.4,194.0 125.2,192.1 125.9,190.2 126.6,188.3 127.4,186.5 128.2,184.6 129.0,182.8 129.8,180.9 130.6,179.1 131.4,177.3 132.3,175.4 133.1,173.6 134.0,171.8 134.9,170.0 135.8,168.2 136.7,166.5 137.6,164.7 138.5,162.9 139.5,161.2 145.0,157.5 150.0,153.1 156.2,150.0 162.5,148.5 167.5,147.8 170.0,151.2 172.5,157.5 178.8,160.0 183.8,161.9 190.0,164.5 195.0,167.0 200.0,169.5 205.0,173.5 210.0,177.0 215.0,180.0 220.0,183.0 224.0,186.5 226.5,188.5 227.2,190.0 228.9,197.6 230.5,201.5 232.5,204.0 234.5,206.2 236.5,208.2 238.5,210.0 240.6,211.9 242.6,213.8 244.6,216.0 246.6,218.4 248.6,221.2 250.6,224.3 252.6,227.7 254.6,231.3 256.6,235.1 258.6,239.0 260.7,242.9 262.7,246.8 264.7,250.6 266.7,254.4 268.7,258.1 270.7,261.7 272.7,265.2 274.7,268.6 276.7,272.0 278.8,275.3 280.8,278.5 282.8,281.6 284.8,284.6 286.8,287.5 288.8,290.3 290.8,293.0 292.8,295.6 294.8,298.1 296.8,300.6 298.9,302.9 300.9,305.1 302.9,307.2 304.9,309.2 306.9,311.0 308.9,312.8 310.9,314.4 312.9,315.9 314.9,317.3 316.9,318.6 319.0,319.7 321.0,320.7 323.0,321.6 325.0,322.4 327.0,323.0 330.0,320.0 332.0,321.0 334.0,321.9 336.0,322.8 338.0,323.7 340.0,324.5 342.0,325.3 344.0,326.0 346.0,326.7 348.0,327.4 350.0,328.0 352.0,328.6 354.1,329.2 356.1,329.8 358.1,330.3 360.1,330.8 362.1,331.2 364.1,331.7 366.1,332.1 368.1,332.4 370.1,332.8 372.1,333.1 374.1,333.4 376.1,333.7 378.1,334.0 380.1,334.3 382.1,334.5 384.1,334.7 386.1,334.9 388.1,335.1 390.1,335.2 392.1,335.3 394.1,335.5 396.1,335.6 398.2,335.7 400.2,335.7 402.2,335.8 404.2,335.8 406.2,335.8 408.2,335.9 410.2,335.9 412.2,335.8 414.2,335.8 416.2,335.8 418.2,335.7 420.2,335.6 422.2,335.6 424.2,335.5 426.2,335.4 428.2,335.3 430.2,335.1 432.2,335.0 434.2,334.9 436.2,334.7 438.2,334.6 440.2,334.4 442.2,334.3 444.3,334.2 446.3,334.1 448.3,334.0 450.3,333.8 452.3,333.7 454.3,333.5 456.3,333.4 458.3,333.3 460.3,333.1 462.3,332.9 464.3,332.8 466.3,332.6 468.3,332.4 470.3,332.3 472.3,332.1 474.3,331.9 476.3,331.7 478.3,331.6 480.3,331.4 482.3,331.1 484.3,330.9 486.3,330.6 488.4,330.3 490.4,330.1 492.4,329.8 494.4,329.6 496.4,329.3 498.4,329.1 500.4,328.9 502.4,328.6 504.4,328.4 506.4,328.2 508.4,327.9 510.4,327.7 512.4,327.5 514.4,327.3 516.4,327.0 518.4,326.8 520.4,326.6 522.4,326.4 524.4,326.2 526.4,326.0 528.4,325.8 530.4,325.6 532.4,325.4 534.5,325.2 536.5,325.1 538.5,324.9 540.5,324.7 542.5,324.5 544.5,324.3 546.5,324.2 548.5,324.0 550.5,323.8 552.5,323.7 554.5,323.5 556.5,323.3 558.5,323.2 560.5,323.0 562.5,322.9 564.5,322.7 566.5,322.6 568.5,322.4 570.5,322.3 572.5,322.1 574.5,322.0 576.5,321.9 578.6,321.7 580.6,321.6 582.6,321.5 584.6,321.3 586.6,321.2 588.6,321.1 590.6,321.0 592.6,320.8 594.6,320.7 596.6,320.6 598.6,320.5 600.6,320.4 602.6,320.3 604.6,320.2 606.6,320.0 608.6,319.9 610.6,319.8 612.6,319.7 614.6,319.6 616.6,319.5 618.6,319.4 620.6,319.3 622.6,319.2 624.7,319.1 626.7,319.0 628.7,319.0 630.7,318.9 632.7,318.8 634.7,318.7 636.7,318.6 638.7,318.5 640.7,318.4 642.7,318.3 644.7,318.3 646.7,318.2 648.7,318.1 650.7,318.0 652.7,317.9 654.7,317.9 656.7,317.8 658.7,317.7 660.7,317.6 662.7,317.5 664.7,317.4 666.7,317.3 668.8,317.2 670.8,317.1 672.8,317.1 674.8,317.0 676.8,316.9 678.8,316.8 680.8,316.7 682.8,316.6 684.8,316.5 686.8,316.4 688.8,316.3 690.8,316.2 692.8,316.1 694.8,316.0 696.8,316.0 698.8,315.9 700.8,315.8 702.8,315.7 704.8,315.6 706.8,315.5 708.8,315.4 710.8,315.3 712.8,315.2 714.9,315.1 716.9,315.1 718.9,315.0 720.9,314.9 722.9,314.8 724.9,314.7 726.9,314.6 728.9,314.5 730.9,314.4 732.9,314.3 734.9,314.3 736.9,314.2 738.9,314.1 740.9,314.0 742.9,313.9 744.9,313.8 746.9,313.7 748.9,313.6 750.9,313.5 752.9,313.4 754.9,313.3 756.9,313.2 759.0,313.1 761.0,313.0 763.0,312.9 765.0,312.8 767.0,312.7 769.0,312.6 771.0,312.5 773.0,312.4 775.0,312.3 777.0,312.2 779.0,312.1 781.0,312.0" stroke="#0070C0"/>
<polyline points="105.3,256.9 105.9,255.0 106.5,253.1 107.0,251.2 107.6,249.3 108.2,247.4 108.8,245.5 109.3,243.6 109.9,241.7 110.5,239.8 111.1,237.9 111.7,236.0 112.2,234.1 112.8,232.2 113.4,230.2 114.0,228.3 114.6,226.4 115.2,224.5 115.8,222.5 116.5,220.6 117.1,218.7 117.7,216.8 118.3,214.9 119.0,213.0 119.6,211.0 120.3,209.1 120.9,207.2 121.6,205.3 122.3,203.4 123.0,201.5 123.7,199.6 124.4,197.7 125.1,195.8 125.8,194.0 126.6,192.1 127.3,190.2 128.0,188.3 128.8,186.5 129.6,184.6 130.4,182.8 131.2,180.9 132.0,179.1 132.8,177.3 133.7,175.4 134.5,173.6 135.4,171.8 136.3,170.0 137.2,168.2 138.1,166.5 139.0,164.7 139.9,162.9 140.9,161.2 141.9,159.4 142.9,157.7 143.9,156.0 144.9,154.3 145.9,152.6 147.0,150.9 148.1,149.2 149.2,147.6 150.3,145.9 151.4,144.3 152.6,142.7 153.8,141.1 155.0,139.5 156.2,137.9 157.4,136.3 158.7,134.8 159.9,133.3 161.2,131.7 162.6,130.2 163.9,128.8 165.3,127.3 166.7,125.8 168.1,124.4 172.5,127.5 174.6,125.0 176.6,122.7 178.7,120.5 180.8,118.4 182.8,116.5 184.9,114.6 187.0,112.9 189.0,111.3 191.1,109.7 193.2,108.3 195.2,106.9 197.3,105.5 199.4,104.2 201.4,102.9 203.5,101.7 205.6,100.4 207.6,99.2 209.7,97.9 211.8,96.7 213.8,95.4 215.9,94.1 218.0,92.7 220.0,91.3 222.1,89.8 224.2,88.2 226.2,86.5 230.6,90.6 233.1,90.0 237.5,87.5 242.5,84.4 247.5,82.5 251.9,81.2 255.6,84.4 260.0,86.9 266.2,90.0 272.5,94.4 280.0,98.8 283.8,101.9 288.8,105.6 295.0,110.0 301.2,114.4 306.2,120.0 312.5,127.5 320.0,133.8 325.0,138.8 327.5,140.6 331.2,141.2 340.0,152.0 342.0,154.8 344.0,157.6 346.0,160.4 348.0,163.2 350.0,165.9 352.0,168.6 354.0,171.2 356.0,173.9 358.0,176.5 360.0,179.1 362.1,181.6 364.1,184.1 366.1,186.7 368.1,189.1 370.1,191.6 372.1,194.0 374.1,196.4 376.1,198.8 378.1,201.1 380.1,203.4 382.1,205.7 384.1,208.0 386.1,210.2 388.1,212.5 390.1,214.7 392.1,216.8 394.1,219.0 396.1,221.1 398.1,223.2 400.1,225.3 402.1,227.3 404.1,229.3 406.1,231.3 408.2,233.3 410.2,235.3 412.2,237.2 414.2,239.1 416.2,241.0 418.2,242.8 420.2,244.7 422.2,246.5 424.2,248.3 426.2,250.1 428.2,251.8 430.2,253.5 432.2,255.2 434.2,256.9 436.2,258.6 438.2,260.2 440.2,261.8 442.2,263.4 444.2,265.0 446.2,266.6 448.2,268.1 450.2,269.6 452.3,271.1 454.3,272.6 456.3,274.1 458.3,275.5 460.3,276.9 462.3,278.3 464.3,279.7 466.3,281.0 468.3,282.4 470.3,283.7 472.3,285.0 474.3,286.3 476.3,287.5 478.3,288.8 480.3,290.0 482.3,291.2 484.3,292.4 486.3,293.6 488.3,294.7 490.3,295.9 492.3,297.0 494.4,298.1 496.4,299.2 498.4,300.2 500.4,301.3 502.4,302.3 504.4,303.3 506.4,304.3 508.4,305.3 510.4,306.3 512.4,307.3 514.4,308.2 516.4,309.1 518.4,310.0 520.4,310.9 522.4,311.8 524.4,312.6 526.4,313.5 528.4,314.3 530.4,315.1 532.4,315.9 534.4,316.7 536.4,317.5 538.5,318.3 540.5,319.0 542.5,319.7 544.5,320.4 546.5,321.2 548.5,321.8 550.5,322.5 552.5,323.2 554.5,323.8 556.5,324.5 558.5,325.1 560.5,325.7 562.5,326.3 564.5,326.9 566.5,327.5 568.5,328.1 570.5,328.6 572.5,329.2 574.5,329.7 576.5,330.2 578.5,330.7 580.5,331.2 582.5,331.7 584.6,332.2 586.6,332.6 588.6,333.1 590.6,333.5 592.6,334.0 594.6,334.4 596.6,334.8 598.6,335.2 600.6,335.6 602.6,336.0 604.6,336.4 606.6,336.7 608.6,337.1 610.6,337.5 612.6,337.8 614.6,338.1 616.6,338.5 618.6,338.8 620.6,339.1 622.6,339.4 624.6,339.7 626.6,340.0 628.7,340.2 630.7,340.5 632.7,340.8 634.7,341.0 636.7,341.3 638.7,341.5 640.7,341.8 642.7,342.0 644.7,342.2 646.7,342.4 648.7,342.6 650.7,342.9 652.7,343.1 654.7,343.2 656.7,343.4 658.7,343.6 660.7,343.8 662.7,344.0 664.7,344.1 666.7,344.3 668.7,344.5 670.8,344.6 672.8,344.8 674.8,344.9 676.8,345.1 678.8,345.2 680.8,345.3 682.8,345.5 684.8,345.6 686.8,345.7 688.8,345.8 690.8,346.0 692.8,346.1 694.8,346.2 696.8,346.3 698.8,346.4 700.8,346.5 702.8,346.6 704.8,346.7 706.8,346.8 708.8,346.9 710.8,347.0 712.8,347.1 714.8,347.2 716.9,347.3 718.9,347.4 720.9,347.5 722.9,347.6 724.9,347.7 726.9,347.8 728.9,347.9 730.9,348.0 732.9,348.1 734.9,348.2 736.9,348.3 738.9,348.3 740.9,348.4 742.9,348.5 744.9,348.6 746.9,348.7 748.9,348.8 750.9,348.9 752.9,349.0 754.9,349.1 756.9,349.2 759.0,349.3 761.0,349.5 763.0,349.6 765.0,349.7 767.0,349.8 769.0,349.9 771.0,350.0 773.0,350.2 775.0,350.3 777.0,350.4 779.0,350.6 781.0,350.7" stroke="#002060"/>
</g>
<g font-size="18.8px">
<text text-anchor="end" x="85.1" y="23.90">700</text>
<text text-anchor="end" x="85.1" y="58.00">600</text>
<text text-anchor="end" x="85.1" y="92.40">500</text>
<text text-anchor="end" x="85.1" y="126.90">400</text>
<text text-anchor="end" x="85.1" y="161.20">300</text>
<text text-anchor="end" x="85.1" y="194.30">200</text>
<text text-anchor="end" x="85.1" y="228.70">100</text>
<text text-anchor="end" x="85.1" y="263.00">0</text>
<text text-anchor="end" x="85.1" y="297.30">-100</text>
<text text-anchor="end" x="85.1" y="331.60">-200</text>
<text text-anchor="end" x="85.1" y="366.00">-300</text>
<text text-anchor="end" x="85.1" y="399.10">-400</text>
<text text-anchor="end" x="85.1" y="433.40">-500</text>
<text text-anchor="end" x="85.1" y="467.70">-600</text>
<text text-anchor="end" x="85.1" y="501.90">-700</text>
</g>
<g font-size="18.8px">
<text x="105.20" y="535" text-anchor="middle">0</text>
<text x="240.36" y="535" text-anchor="middle">20</text>
<text x="375.52" y="535" text-anchor="middle">40</text>
<text x="510.68" y="535" text-anchor="middle">60</text>
<text x="645.84" y="535" text-anchor="middle">80</text>
<text x="781.00" y="535" text-anchor="middle">100</text>
</g>
<rect x="373" y="366.8" width="320.4" height="100.2" fill="#fff" stroke="#1e1e1e" stroke-width="1.4"/>
<g font-size="19.0px">
<line x1="390.1" y1="383.50" x2="424.7" y2="383.50" stroke="#FFC000" stroke-width="4" stroke-linecap="round"/>
<text x="427.43" y="389.10" textLength="49.15" lengthAdjust="spacingAndGlyphs">1 mm</text>
<line x1="550.9" y1="383.50" x2="582.4" y2="383.50" stroke="#FF0000" stroke-width="4" stroke-linecap="round"/>
<text x="588.12" y="389.10" textLength="48.64" lengthAdjust="spacingAndGlyphs">5 mm</text>
<line x1="390.1" y1="416.85" x2="424.7" y2="416.85" stroke="#FF00FF" stroke-width="4" stroke-linecap="round"/>
<text x="427.51" y="422.45" textLength="49.06" lengthAdjust="spacingAndGlyphs">8 mm</text>
<line x1="550.9" y1="416.85" x2="582.4" y2="416.85" stroke="#00B050" stroke-width="4" stroke-linecap="round"/>
<text x="587.31" y="422.45" textLength="60.70" lengthAdjust="spacingAndGlyphs">15 mm</text>
<line x1="390.1" y1="450.20" x2="424.7" y2="450.20" stroke="#0070C0" stroke-width="4" stroke-linecap="round"/>
<text x="427.52" y="455.80" textLength="59.88" lengthAdjust="spacingAndGlyphs">30 mm</text>
<line x1="550.9" y1="450.20" x2="582.4" y2="450.20" stroke="#002060" stroke-width="4" stroke-linecap="round"/>
<text x="587.58" y="455.80" textLength="89.40" lengthAdjust="spacingAndGlyphs">ID -60 mm</text>
</g>
<text x="369.29" y="574.3" textLength="146.52" lengthAdjust="spacingAndGlyphs" font-size="22.8px" font-weight="bold">Time, seconds</text>
<text transform="translate(28.0,349.00) rotate(-90)" textLength="182.57" lengthAdjust="spacingAndGlyphs" font-size="23.0px" font-weight="bold">Hoop Stress, MPa</text>
</svg>
</body></html>
